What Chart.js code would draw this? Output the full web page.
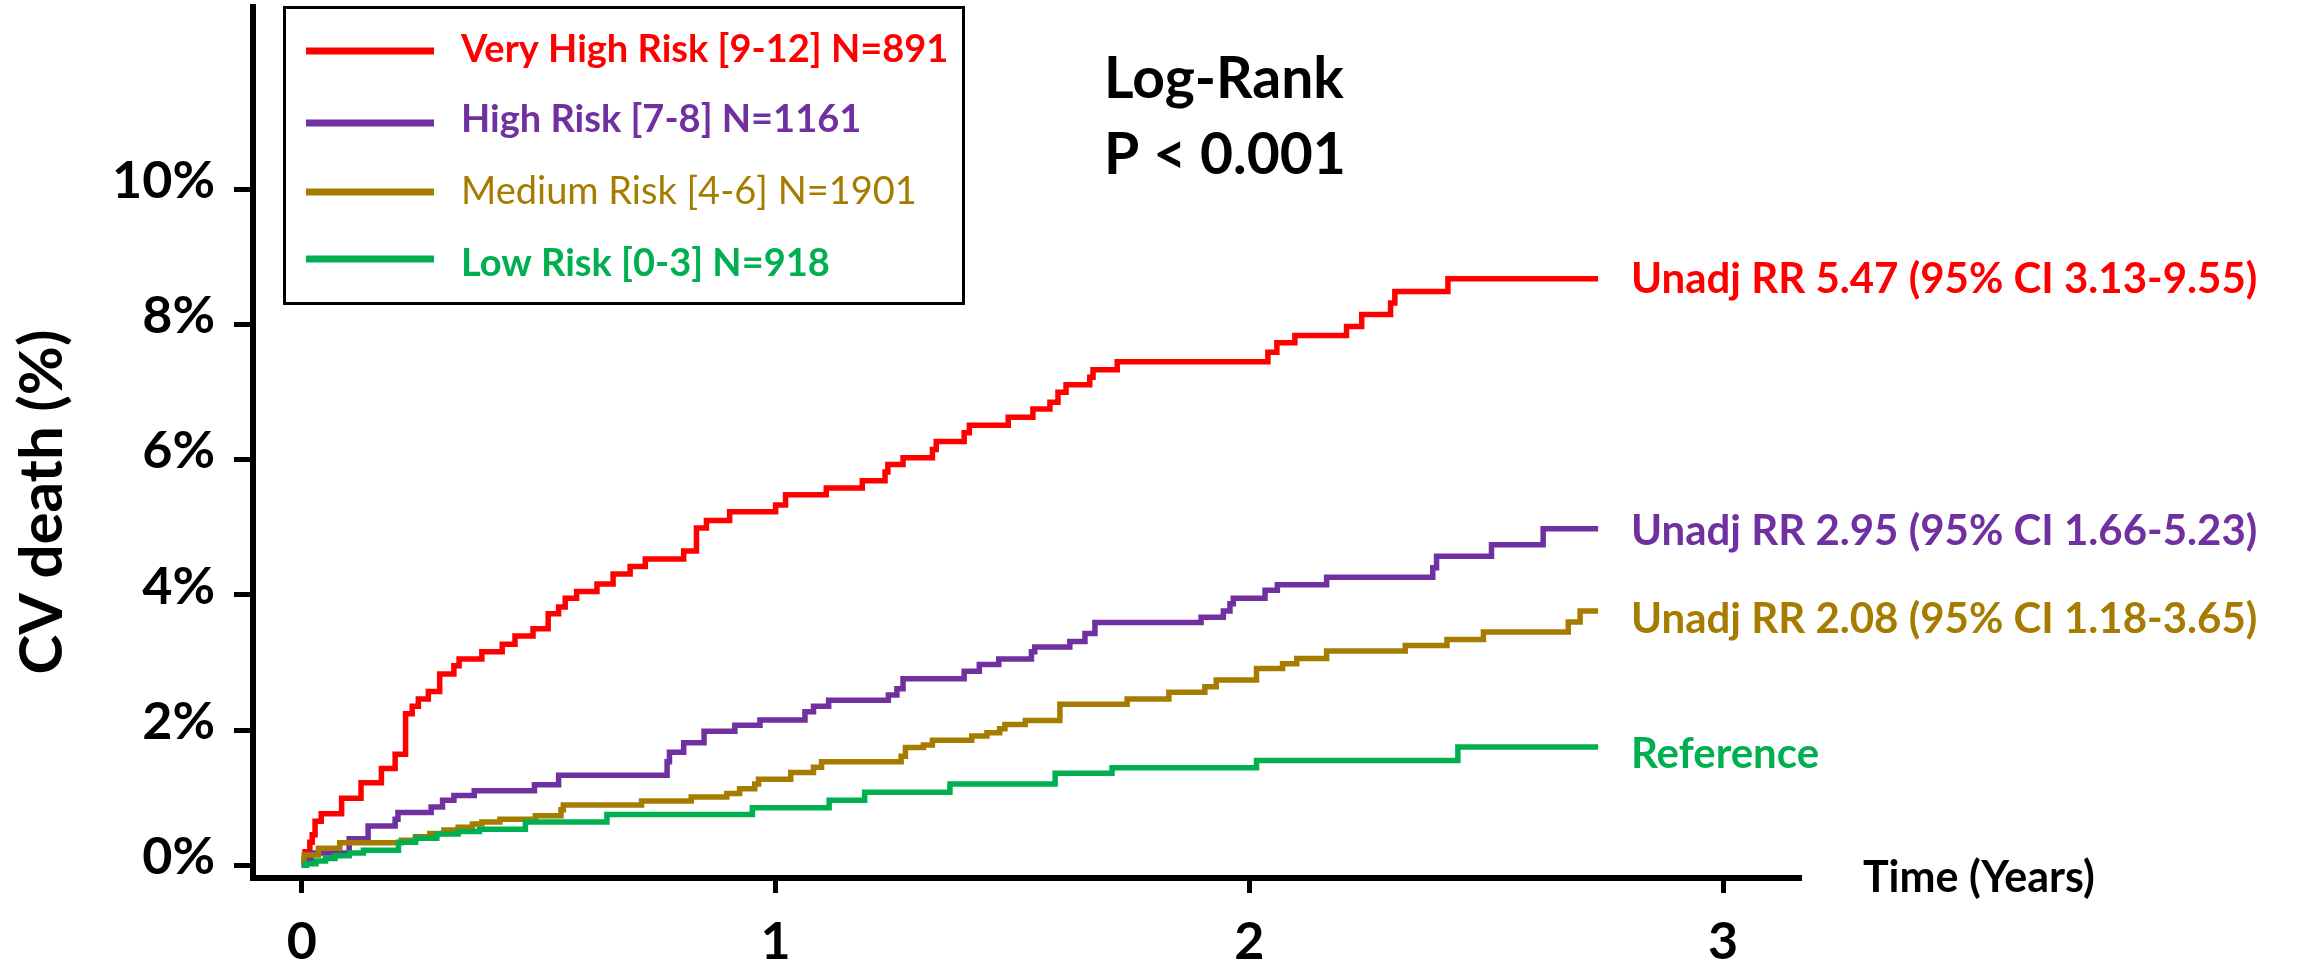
<!DOCTYPE html>
<html>
<head>
<meta charset="utf-8">
<title>CV death by risk group</title>
<script src="https://cdn.jsdelivr.net/npm/chart.js@4.4.1/dist/chart.umd.min.js"></script>
<style>
  html, body { margin: 0; padding: 0; background: #fff; }
  canvas { display: block; }
</style>
</head>
<body>
<canvas id="km" width="2310" height="967"></canvas>
<script>
// Kaplan-Meier style curves: time in years, cumulative CV death in %
const veryHighT = [0, 0.007, 0.017, 0.022, 0.028, 0.041, 0.084, 0.125, 0.168, 0.197,
  0.219, 0.233, 0.246, 0.267, 0.291, 0.321, 0.332, 0.380, 0.423, 0.450,
  0.488, 0.520, 0.542, 0.556, 0.580, 0.623, 0.657, 0.693, 0.725, 0.806,
  0.833, 0.854, 0.903, 1.000, 1.021, 1.107, 1.183, 1.231, 1.237, 1.269,
  1.331, 1.339, 1.398, 1.409, 1.491, 1.543, 1.579, 1.596, 1.613, 1.663,
  1.670, 1.721, 2.039, 2.058, 2.096, 2.205, 2.237, 2.298, 2.307, 2.419,
  2.736];
const veryHighV = [0, 0.20, 0.34, 0.45, 0.65, 0.76, 0.99, 1.22, 1.43, 1.64,
  2.24, 2.35, 2.46, 2.57, 2.83, 2.95, 3.05, 3.16, 3.27, 3.39,
  3.50, 3.72, 3.82, 3.95, 4.05, 4.16, 4.31, 4.42, 4.53, 4.65,
  4.99, 5.10, 5.23, 5.33, 5.48, 5.58, 5.69, 5.82, 5.93, 6.03,
  6.15, 6.27, 6.40, 6.51, 6.63, 6.75, 6.85, 7.00, 7.11, 7.22,
  7.33, 7.45, 7.59, 7.73, 7.84, 7.97, 8.15, 8.32, 8.49, 8.68,
  8.68];

const highT = [0, 0.005, 0.020, 0.100, 0.140, 0.197, 0.203, 0.273, 0.297, 0.321,
  0.364, 0.491, 0.542, 0.771, 0.776, 0.806, 0.849, 0.914, 0.967, 1.062,
  1.080, 1.112, 1.238, 1.256, 1.269, 1.398, 1.430, 1.471, 1.540, 1.547,
  1.621, 1.653, 1.674, 1.898, 1.945, 1.959, 1.966, 2.033, 2.059, 2.163,
  2.387, 2.395, 2.511, 2.620, 2.736];
const highV = [0, 0.10, 0.18, 0.39, 0.58, 0.68, 0.78, 0.86, 0.96, 1.03,
  1.10, 1.19, 1.33, 1.53, 1.67, 1.81, 1.98, 2.07, 2.15, 2.27,
  2.35, 2.44, 2.52, 2.61, 2.76, 2.87, 2.97, 3.05, 3.16, 3.23,
  3.31, 3.43, 3.59, 3.67, 3.76, 3.87, 3.95, 4.07, 4.15, 4.26,
  4.40, 4.57, 4.74, 4.98, 4.98];

const mediumT = [0, 0.005, 0.035, 0.080, 0.210, 0.240, 0.270, 0.300, 0.330, 0.360,
  0.380, 0.418, 0.493, 0.547, 0.552, 0.717, 0.822, 0.897, 0.924, 0.956,
  0.964, 1.032, 1.080, 1.097, 1.265, 1.274, 1.312, 1.331, 1.414, 1.446,
  1.473, 1.484, 1.527, 1.600, 1.742, 1.830, 1.906, 1.930, 2.015, 2.070,
  2.100, 2.163, 2.329, 2.417, 2.494, 2.673, 2.698, 2.736];
const mediumV = [0, 0.15, 0.25, 0.33, 0.37, 0.42, 0.47, 0.52, 0.56, 0.61,
  0.64, 0.68, 0.73, 0.82, 0.89, 0.95, 1.01, 1.06, 1.13, 1.20,
  1.27, 1.37, 1.45, 1.53, 1.61, 1.74, 1.78, 1.85, 1.91, 1.96,
  2.02, 2.08, 2.14, 2.38, 2.46, 2.56, 2.64, 2.74, 2.91, 2.98,
  3.06, 3.17, 3.25, 3.34, 3.45, 3.60, 3.76, 3.76];

const lowT = [0, 0.010, 0.030, 0.050, 0.070, 0.100, 0.130, 0.204, 0.240, 0.285,
  0.330, 0.375, 0.472, 0.644, 0.951, 1.113, 1.188, 1.368, 1.590, 1.710,
  2.015, 2.440, 2.736];
const lowV = [0, 0.02, 0.06, 0.10, 0.14, 0.18, 0.22, 0.34, 0.40, 0.46,
  0.50, 0.53, 0.64, 0.75, 0.85, 0.96, 1.08, 1.20, 1.36, 1.44,
  1.55, 1.75, 1.75];

const groupLabels = ['Very High Risk [9-12] N=891', 'High Risk [7-8] N=1161',
  'Medium Risk [4-6] N=1901', 'Low Risk [0-3] N=918'];
const rrLabels = ['Unadj RR 5.47 (95% CI 3.13-9.55)', 'Unadj RR 2.95 (95% CI 1.66-5.23)',
  'Unadj RR 2.08 (95% CI 1.18-3.65)', 'Reference'];
const xTicks = [0, 1, 2, 3];
const yTicks = [0, 2, 4, 6, 8, 10];

const colors = ['#FF0000', '#7030A0', '#A67C00', '#00B050'];
const FONT = 'Lato, "Open Sans", sans-serif';

const toPoints = (ts, vs) => ts.map((t, i) => ({ x: t, y: vs[i] }));
const series = [
  toPoints(veryHighT, veryHighV),
  toPoints(highT, highV),
  toPoints(mediumT, mediumV),
  toPoints(lowT, lowV),
];

// legend box, statistics and right-hand labels
const overlay = {
  id: 'overlay',
  afterDraw(chart) {
    const ctx = chart.ctx;
    const ys = chart.scales.y;
    ctx.save();

    ctx.strokeStyle = '#000';
    ctx.lineWidth = 3;
    ctx.strokeRect(284.5, 7.5, 679, 296);

    const lineY = [51, 123, 192, 259];
    const baseY = [62, 132, 204, 276];
    groupLabels.forEach((lab, i) => {
      ctx.strokeStyle = colors[i];
      ctx.lineWidth = 7;
      ctx.beginPath();
      ctx.moveTo(306, lineY[i]);
      ctx.lineTo(434, lineY[i]);
      ctx.stroke();
      ctx.fillStyle = colors[i];
      ctx.font = (i === 2 ? 'normal ' : 'bold ') + '38px ' + FONT;
      ctx.textBaseline = 'alphabetic';
      ctx.fillText(lab, 461, baseY[i]);
    });

    ctx.fillStyle = '#000';
    ctx.font = 'bold 57px ' + FONT;
    ctx.fillText('Log-Rank', 1104, 98);
    ctx.fillText('P < 0.001', 1104, 174);

    // labels next to the end of each curve
    const ends = [veryHighV, highV, mediumV, lowV].map(v => v[v.length - 1]);
    const nudge = [14, 16, 22, 21];
    ctx.font = 'bold 42px ' + FONT;
    rrLabels.forEach((lab, i) => {
      ctx.fillStyle = colors[i];
      ctx.fillText(lab, 1631, ys.getPixelForValue(ends[i]) + nudge[i]);
    });

    ctx.fillStyle = '#000';
    ctx.font = 'bold 43px ' + FONT;
    ctx.fillText('Time (Years)', 1863, 892);

    ctx.translate(62, 502);
    ctx.rotate(-Math.PI / 2);
    ctx.textAlign = 'center';
    ctx.font = 'bold 60px ' + FONT;
    ctx.fillText('CV death (%)', 0, 0);
    ctx.restore();
  }
};

new Chart(document.getElementById('km'), {
  type: 'line',
  data: {
    datasets: series.map((pts, i) => ({
      label: groupLabels[i],
      data: pts,
      borderColor: colors[i],
      backgroundColor: colors[i],
      borderWidth: 5.5,
      pointRadius: 0,
      stepped: true,
      fill: false,
      borderJoinStyle: 'miter',
    })).reverse(),
  },
  options: {
    responsive: false,
    animation: false,
    devicePixelRatio: 1,
    layout: { padding: { top: 7, right: 511, left: 0, bottom: 0 } },
    plugins: { legend: { display: false }, tooltip: { enabled: false } },
    scales: {
      x: {
        type: 'linear',
        min: -0.103,
        max: 3.16,
        afterFit: s => { s.height = 89; s.paddingLeft = 0; s.paddingRight = 0; },
        afterBuildTicks: s => { s.ticks = xTicks.map(v => ({ value: v })); },
        grid: { drawOnChartArea: false, drawTicks: true, tickLength: 15, lineWidth: 5, color: '#000' },
        border: { display: true, width: 6, color: '#000' },
        ticks: { color: '#000', padding: 18, maxRotation: 0, font: { family: FONT, weight: 'bold', size: 52 } },
      },
      y: {
        type: 'linear',
        min: -0.19,
        max: 12.7,
        afterFit: s => { s.width = 253; s.paddingTop = 0; s.paddingBottom = 0; },
        afterBuildTicks: s => { s.ticks = yTicks.map(v => ({ value: v })); },
        grid: { drawOnChartArea: false, drawTicks: true, tickLength: 19, lineWidth: 5, color: '#000' },
        border: { display: true, width: 6, color: '#000' },
        ticks: {
          color: '#000', padding: 19, labelOffset: -8,
          font: { family: FONT, weight: 'bold', size: 52 },
          callback: v => v + '%',
        },
      },
    },
  },
  plugins: [overlay],
});
</script>
</body>
</html>
